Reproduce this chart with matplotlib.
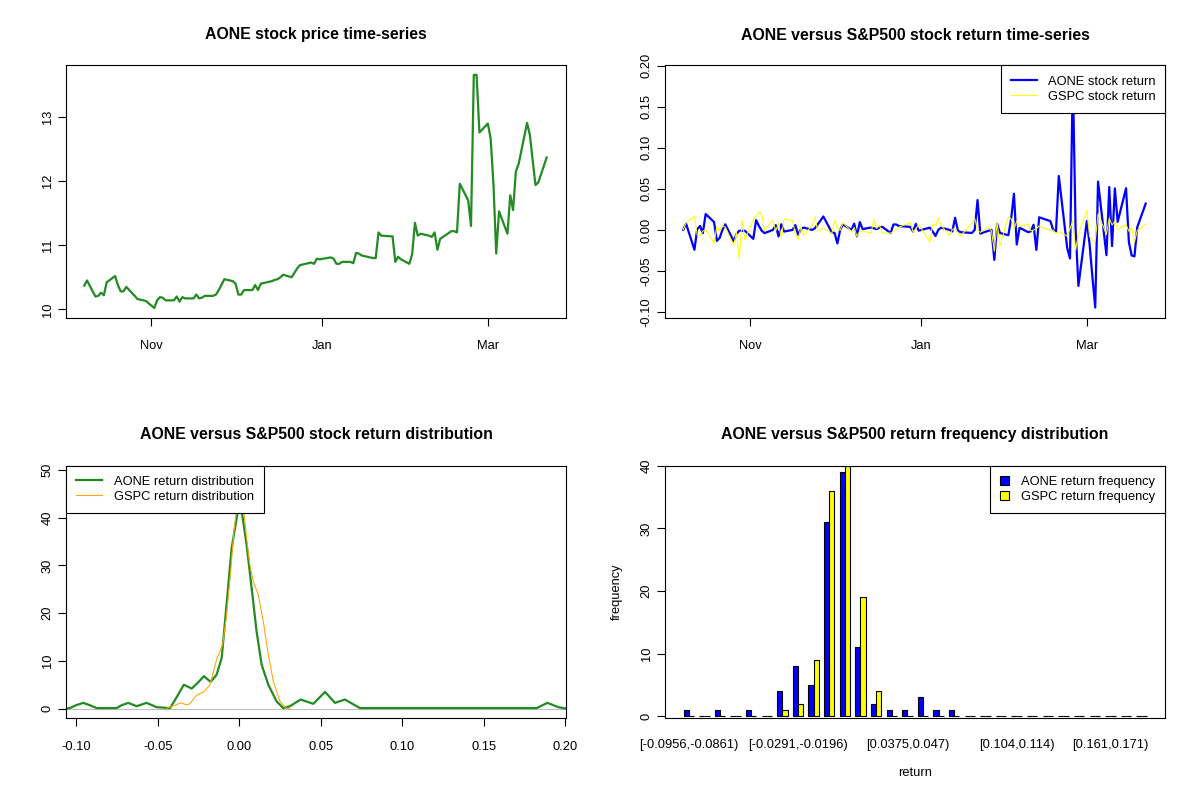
import matplotlib
matplotlib.use('Agg')
import matplotlib.pyplot as plt
import pandas as pd

plt.rcParams['font.family'] = ['Liberation Sans', 'DejaVu Sans']
plt.rcParams['axes.unicode_minus'] = False

# trading days Oct 8 2020 - Mar 22 2021 (US market holidays removed)
holidays = ['2020-11-26', '2020-12-25', '2021-01-01', '2021-01-18', '2021-02-15']
trade_days = pd.bdate_range('2020-10-08', '2021-03-22')
trade_days = trade_days[~trade_days.isin(pd.to_datetime(holidays))]

aone_price = [
    10.37, 10.45, 10.20, 10.21, 10.26, 10.22, 10.42, 10.52, 10.38, 10.28,
    10.28, 10.35, 10.21, 10.16, 10.15, 10.14, 10.13, 10.02, 10.14, 10.19,
    10.18, 10.14, 10.14, 10.20, 10.12, 10.19, 10.17, 10.17, 10.23, 10.17,
    10.18, 10.21, 10.21, 10.23, 10.30, 10.47, 10.44, 10.40, 10.23, 10.23,
    10.30, 10.30, 10.38, 10.30, 10.40, 10.41, 10.44, 10.46, 10.47, 10.50,
    10.54, 10.50, 10.57, 10.64, 10.69, 10.73, 10.71, 10.79, 10.78, 10.81,
    10.79, 10.71, 10.71, 10.74, 10.74, 10.72, 10.88, 10.87, 10.84, 10.80,
    10.80, 11.20, 11.15, 11.14, 11.14, 10.74, 10.82, 10.78, 10.71, 10.86,
    11.35, 11.15, 11.18, 11.15, 11.13, 11.20, 10.93, 11.10, 11.22, 11.22,
    11.20, 11.96, 11.70, 11.30, 13.66, 13.66, 12.76, 12.90, 12.67, 11.96,
    10.87, 11.53, 11.18, 11.78, 11.55, 12.15, 12.27, 12.91, 12.72, 12.33,
    11.94, 11.98, 12.37,
]

aone_ret = [
    0.0, 0.0077, -0.0242, 0.0010, 0.0049, -0.0039, 0.0194, 0.0096, -0.0134, -0.0097,
    0.0, 0.0068, -0.0136, -0.0049, -0.0010, -0.0010, -0.0010, -0.0109, 0.0119, 0.0049,
    -0.0010, -0.0039, 0.0, 0.0059, -0.0079, 0.0069, -0.0020, 0.0, 0.0059, -0.0059,
    0.0010, 0.0029, 0.0, 0.0020, 0.0068, 0.0164, -0.0029, -0.0038, -0.0165, 0.0,
    0.0068, 0.0, 0.0077, -0.0077, 0.0096, 0.0010, 0.0029, 0.0019, 0.0010, 0.0029,
    0.0038, -0.0038, 0.0066, 0.0066, 0.0047, 0.0037, -0.0019, 0.0074, -0.0009, 0.0028,
    -0.0019, -0.0074, 0.0, 0.0028, 0.0, -0.0019, 0.0148, -0.0009, -0.0028, -0.0037,
    0.0, 0.0364, -0.0045, -0.0009, 0.0, -0.0366, 0.0074, -0.0037, -0.0065, 0.0139,
    0.0441, -0.0178, 0.0027, -0.0027, -0.0018, 0.0063, -0.0244, 0.0154, 0.0107, 0.0,
    -0.0018, 0.0657, -0.0220, -0.0348, 0.1897, 0.0, -0.0682, 0.0109, -0.0180, -0.0577,
    -0.0946, 0.0589, -0.0308, 0.0523, -0.0197, 0.0506, 0.0098, 0.0508, -0.0148, -0.0312,
    -0.0322, 0.0033, 0.0321,
]

gspc_ret = [
    0.0, 0.0088, 0.0163, -0.0063, -0.0066, -0.0015, 0.0001, -0.0164, 0.0047, -0.0022,
    0.0052, 0.0034, -0.0187, -0.0030, -0.0359, 0.0118, -0.0122, 0.0122, 0.0175, 0.0218,
    0.0193, -0.0003, 0.0116, -0.0014, 0.0077, -0.0100, 0.0135, 0.0115, -0.0048, -0.0117,
    0.0039, -0.0068, 0.0056, 0.0161, -0.0016, 0.0024, -0.0046, 0.0112, 0.0018, -0.0006,
    0.0088, -0.0019, 0.0028, -0.0079, -0.0013, -0.0013, -0.0044, 0.0128, 0.0018, 0.0058,
    -0.0035, -0.0039, -0.0021, 0.0007, 0.0035, 0.0087, -0.0022, 0.0013, 0.0064, -0.0149,
    0.0071, 0.0057, 0.0147, 0.0055, -0.0066, 0.0004, 0.0023, -0.0038, -0.0072, 0.0081,
    0.0138, 0.0003, -0.0030, 0.0036, -0.0015, -0.0260, 0.0097, -0.0195, 0.0160, 0.0138,
    0.0010, 0.0108, 0.0039, 0.0074, -0.0011, -0.0003, 0.0017, 0.0047, -0.0006, -0.0003,
    -0.0044, -0.0019, -0.0077, 0.0013, 0.0113, -0.0248, -0.0048, 0.0235, -0.0081, -0.0132,
    -0.0135, 0.0193, -0.0054, 0.0141, 0.0060, 0.0104, 0.0010, 0.0065, -0.0016, 0.0029,
    -0.0149, -0.0006, 0.0070,
]

# kernel density curves
dens_aone_x = [-0.1063, -0.104, -0.1002, -0.0957, -0.0916, -0.0875, -0.0753, -0.0722,
               -0.0681, -0.063, -0.0569, -0.0507, -0.0425, -0.0384, -0.034, -0.0292,
               -0.0252, -0.0217, -0.0176, -0.0139, -0.0108, -0.0078, -0.0047, -0.0016,
               0.0003, 0.002, 0.0045, 0.0076, 0.0106, 0.0137, 0.0178, 0.0229, 0.027,
               0.0311, 0.0376, 0.0454, 0.0526, 0.0587, 0.0648, 0.074, 0.1824, 0.189,
               0.1957, 0.2006]
dens_aone_y = [0.0, 0.1, 0.7, 1.2, 0.7, 0.1, 0.1, 0.7, 1.2, 0.5, 1.2, 0.3, 0.1, 2.4,
               5.0, 4.2, 5.5, 6.8, 5.6, 7.1, 10.6, 21.8, 33.6, 39.9, 43.5, 40.2, 34.3,
               25.2, 16.2, 9.2, 5.0, 1.5, 0.1, 0.5, 1.9, 1.0, 3.5, 1.2, 1.9, 0.1, 0.1,
               1.2, 0.3, 0.0]
dens_gspc_x = [-0.0446, -0.0395, -0.036, -0.0323, -0.0303, -0.0262, -0.0217, -0.018,
               -0.0139, -0.0102, -0.0078, -0.0053, -0.0033, -0.002, -0.0008, 0.0005,
               0.0017, 0.0029, 0.0045, 0.0065, 0.0086, 0.0117, 0.0147, 0.0178, 0.0209,
               0.025, 0.0286, 0.031]
dens_gspc_y = [0.1, 0.7, 1.2, 0.8, 1.0, 2.8, 3.5, 5.0, 10.3, 13.4, 19.7, 28.7, 37.1,
               40.9, 45.5, 47.8, 45.8, 40.9, 35.7, 30.1, 26.6, 23.8, 18.3, 11.3, 5.7,
               1.5, 0.1, 0.0]

# return frequencies in 30 bins
hist_aone = [1, 0, 1, 0, 1, 0, 4, 8, 5, 31, 39, 11, 2, 1, 1, 3, 1, 1,
             0, 0, 0, 0, 0, 0, 0, 0, 0, 0, 0, 0]
hist_gspc = [0, 0, 0, 0, 0, 0, 1, 2, 9, 36, 40, 19, 4, 0, 0, 0, 0, 0,
             0, 0, 0, 0, 0, 0, 0, 0, 0, 0, 0, 0]
hist_tick_bins = [0, 7, 14, 21, 27]
hist_tick_labels = ['[-0.0956,-0.0861)', '[-0.0291,-0.0196)', '[0.0375,0.047)',
                    '[0.104,0.114)', '[0.161,0.171)']

TICK_FS = 9.3
TITLE_FS = 11.4
month_ticks = pd.to_datetime(['2020-11-01', '2021-01-01', '2021-03-01'])
month_labels = ['Nov', 'Jan', 'Mar']


def style_axes(ax):
    for s in ax.spines.values():
        s.set_linewidth(0.8)
        s.set_color('black')
    ax.tick_params(direction='out', length=5.8, width=0.8, labelsize=TICK_FS, pad=10.5)
    ax.tick_params(axis='y', labelrotation=90, pad=3)
    for lbl in ax.get_yticklabels():
        lbl.set_va('center')


def legend(ax, loc, **kw):
    leg = ax.legend(loc=loc, borderaxespad=0, fancybox=False, framealpha=1,
                    edgecolor='black', fontsize=TICK_FS, labelspacing=0.24,
                    borderpad=0.78, **kw)
    leg.get_frame().set_linewidth(0.8)
    return leg


def date_axis(ax):
    ax.set_xlim(pd.Timestamp('2020-10-01 12:00'), pd.Timestamp('2021-03-29'))
    ax.set_xticks(month_ticks)
    ax.set_xticklabels(month_labels)


def plot_price(ax):
    ax.plot(trade_days, aone_price, color='#228B22', lw=1.6)
    date_axis(ax)
    ax.set_ylim(9.869, 13.806)
    ax.set_yticks([10, 11, 12, 13])
    style_axes(ax)


def plot_returns(ax):
    ax.plot(trade_days, aone_ret, color='blue', lw=1.6, label='AONE stock return')
    ax.plot(trade_days, gspc_ret, color='yellow', lw=0.75, label='GSPC stock return')
    date_axis(ax)
    ax.set_ylim(-0.107, 0.2004)
    yt = [-0.10, -0.05, 0.0, 0.05, 0.10, 0.15, 0.20]
    ax.set_yticks(yt)
    ax.set_yticklabels(['%.2f' % v for v in yt])
    style_axes(ax)
    legend(ax, 'upper right', handlelength=2.0, handletextpad=0.85)


def plot_density(ax):
    ax.axhline(0, color='#BEBEBE', lw=0.8)
    ax.plot(dens_aone_x, dens_aone_y, color='#228B22', lw=1.6, label='AONE return distribution')
    ax.plot(dens_gspc_x, dens_gspc_y, color='orange', lw=0.75, label='GSPC return distribution')
    ax.set_xlim(-0.1063, 0.2006)
    ax.set_ylim(-1.95, 50.9)
    xt = [-0.10, -0.05, 0.0, 0.05, 0.10, 0.15, 0.20]
    ax.set_xticks(xt)
    ax.set_xticklabels(['%.2f' % v for v in xt])
    ax.set_yticks([0, 10, 20, 30, 40, 50])
    style_axes(ax)
    legend(ax, 'upper left', handlelength=2.0, handletextpad=0.9)


def plot_hist(ax):
    n = len(hist_aone)
    left_a = [1 + 3 * i for i in range(n)]
    left_g = [2 + 3 * i for i in range(n)]
    ax.bar(left_a, hist_aone, width=1, align='edge', color='blue',
           edgecolor='black', lw=0.8, label='AONE return frequency')
    ax.bar(left_g, hist_gspc, width=1, align='edge', color='yellow',
           edgecolor='black', lw=0.8, label='GSPC return frequency')
    ax.set_xlim(-2.56, 93.56)
    ax.set_ylim(-0.26, 40)
    ax.set_xticks([2 + 3 * i for i in hist_tick_bins])
    ax.set_xticklabels(hist_tick_labels)
    ax.set_yticks([0, 10, 20, 30, 40])
    style_axes(ax)
    ax.tick_params(axis='x', length=0, pad=15)
    ax.set_xlabel('return', fontsize=TICK_FS, labelpad=12)
    ax.set_ylabel('frequency', fontsize=TICK_FS, labelpad=13)
    legend(ax, 'upper right', handlelength=0.7, handleheight=0.65, handletextpad=0.9)


fig = plt.figure(figsize=(12, 8), dpi=100)
W, H = 1200.0, 800.0
ax_w = (566.3 - 66) / W
ax_h = (717.9 - 465.7) / H
ax1 = fig.add_axes([66 / W, 1 - 317.7 / H, ax_w, ax_h])
ax2 = fig.add_axes([665 / W, 1 - 317.7 / H, ax_w, ax_h])
ax3 = fig.add_axes([66 / W, 1 - 717.9 / H, ax_w, ax_h])
ax4 = fig.add_axes([665 / W, 1 - 717.9 / H, ax_w, ax_h])

plot_price(ax1)
plot_returns(ax2)
plot_density(ax3)
plot_hist(ax4)

titles = [
    (ax1, 'AONE stock price time-series', 35),
    (ax2, 'AONE versus S&P500 stock return time-series', 35),
    (ax3, 'AONE versus S&P500 stock return distribution', 435),
    (ax4, 'AONE versus S&P500 return frequency distribution', 435),
]
for ax, t, ypix in titles:
    bb = ax.get_position()
    fig.text((bb.x0 + bb.x1) / 2, 1 - ypix / H, t, ha='center', va='center',
             fontsize=TITLE_FS, fontweight='bold')

fig.savefig('out.png', dpi=100)
